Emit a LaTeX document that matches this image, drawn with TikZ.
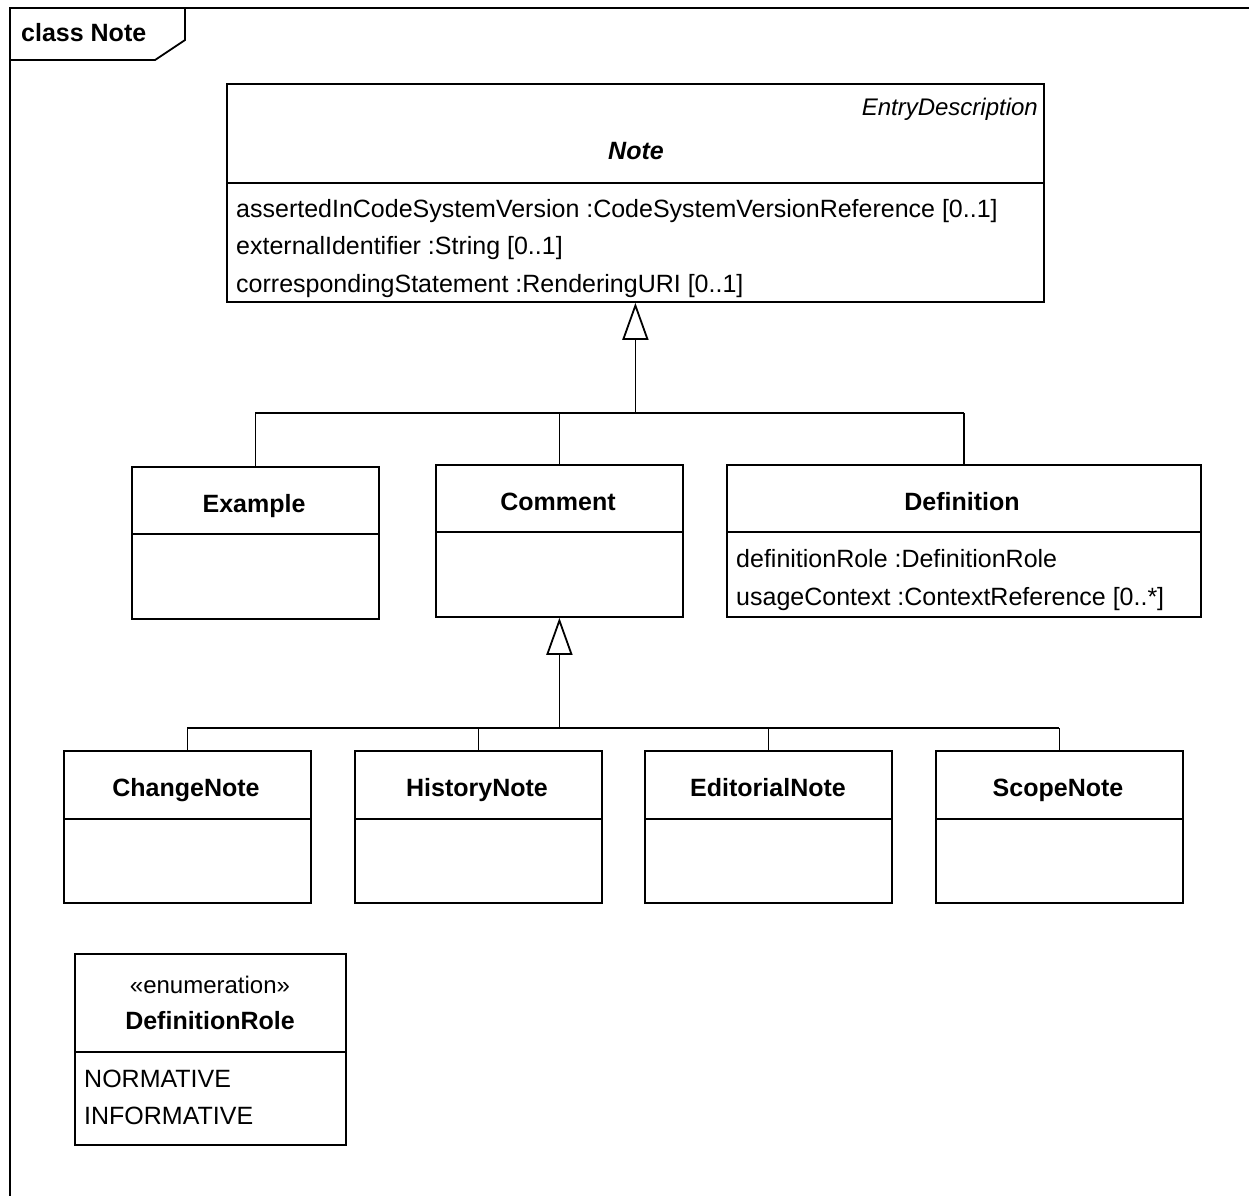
\documentclass[tikz,border=0pt]{standalone}
\usepackage{fontspec}
\setmainfont{Liberation Sans}
\usetikzlibrary{arrows.meta}
\begin{document}
\begin{tikzpicture}[x=1pt,y=-1pt,
  ln/.style={line width=1.8pt},
  cls/.style={draw, ln, rectangle, inner sep=0pt, anchor=north west},
  ttl/.style={inner sep=0pt, anchor=mid, font=\fontsize{25}{30}\selectfont\bfseries},
  attr/.style={inner sep=0pt, anchor=mid west, font=\fontsize{25}{30}\selectfont},
  gen/.style={ln, -{Triangle[open, length=37pt, width=26pt, line width=1.8pt]}}]
\useasboundingbox (0,0) rectangle (1249,1195);
\clip (0,0) rectangle (1249,1195);

% diagram frame with its name tab
\draw[ln] (10,1210) -- (10,8) -- (1260,8);
\draw[ln] (10,60) -- (155,60) -- (185,40) -- (185,8);
\node[attr, font=\fontsize{25}{30}\selectfont\bfseries] (frame) at (21,39) {class Note};

% abstract class Note
\node[cls, minimum width=817pt, minimum height=218pt] (note) at (226,83) {};
\draw[ln] (note.west |- 0,183) -- (note.east |- 0,183);
\node[attr, anchor=mid east, font=\fontsize{24}{30}\selectfont\itshape] (nstereo) at (1038,113) {EntryDescription};
\node[ttl, font=\fontsize{25}{30}\selectfont\bfseries\itshape] (ntitle) at (636,157) {Note};
\node[attr] (na1) at (236,215) {assertedInCodeSystemVersion :CodeSystemVersionReference [0..1]};
\node[attr] (na2) at (236,252) {externalIdentifier :String [0..1]};
\node[attr] (na3) at (236,290) {correspondingStatement :RenderingURI [0..1]};

% first level subclasses
\node[cls, minimum width=247pt, minimum height=152pt] (ex) at (131,466) {};
\draw[ln] (ex.west |- 0,534) -- (ex.east |- 0,534);
\node[ttl] (extitle) at (254,510) {Example};

\node[cls, minimum width=247pt, minimum height=152pt] (com) at (435,464) {};
\draw[ln] (com.west |- 0,532) -- (com.east |- 0,532);
\node[ttl] (comtitle) at (558,508) {Comment};

\node[cls, minimum width=474pt, minimum height=152pt] (def) at (726,464) {};
\draw[ln] (def.west |- 0,532) -- (def.east |- 0,532);
\node[ttl] (deftitle) at (962,508) {Definition};
\node[attr] (da1) at (736,565) {definitionRole :DefinitionRole};
\node[attr] (da2) at (736,603) {usageContext :ContextReference [0..*]};

% generalization tree to Note
\coordinate (bus1) at (note.south |- 0,413);
\draw[ln] (ex.north |- bus1) -- (def.north |- bus1);
\draw[ln] (ex.north) -- (ex.north |- bus1);
\draw[ln] (com.north) -- (com.north |- bus1);
\draw[ln] (def.north) -- (def.north |- bus1);
\draw[gen] (bus1) -- (note.south);

% subclasses of Comment
\node[cls, minimum width=247pt, minimum height=152pt] (chg) at (63,750) {};
\draw[ln] (chg.west |- 0,819) -- (chg.east |- 0,819);
\node[ttl] (chgtitle) at (186,794) {ChangeNote};

\node[cls, minimum width=247pt, minimum height=152pt] (his) at (354,750) {};
\draw[ln] (his.west |- 0,819) -- (his.east |- 0,819);
\node[ttl] (histitle) at (477,794) {HistoryNote};

\node[cls, minimum width=247pt, minimum height=152pt] (edi) at (644,750) {};
\draw[ln] (edi.west |- 0,819) -- (edi.east |- 0,819);
\node[ttl] (edititle) at (768,794) {EditorialNote};

\node[cls, minimum width=247pt, minimum height=152pt] (sco) at (935,750) {};
\draw[ln] (sco.west |- 0,819) -- (sco.east |- 0,819);
\node[ttl] (scotitle) at (1058,794) {ScopeNote};

% generalization tree to Comment
\coordinate (bus2) at (com.south |- 0,728);
\draw[ln] (chg.north |- bus2) -- (sco.north |- bus2);
\draw[ln] (chg.north) -- (chg.north |- bus2);
\draw[ln] (his.north) -- (his.north |- bus2);
\draw[ln] (edi.north) -- (edi.north |- bus2);
\draw[ln] (sco.north) -- (sco.north |- bus2);
\draw[gen] (bus2) -- (com.south);

% enumeration DefinitionRole
\node[cls, minimum width=271pt, minimum height=191pt] (enum) at (74,953) {};
\draw[ln] (enum.west |- 0,1052) -- (enum.east |- 0,1052);
\node[ttl, font=\fontsize{24}{30}\selectfont] (enumst) at (210,991) {«enumeration»};
\node[ttl] (enumtitle) at (210,1027) {DefinitionRole};
\node[attr] (el1) at (84,1085) {NORMATIVE};
\node[attr] (el2) at (84,1122) {INFORMATIVE};
\end{tikzpicture}
\end{document}
